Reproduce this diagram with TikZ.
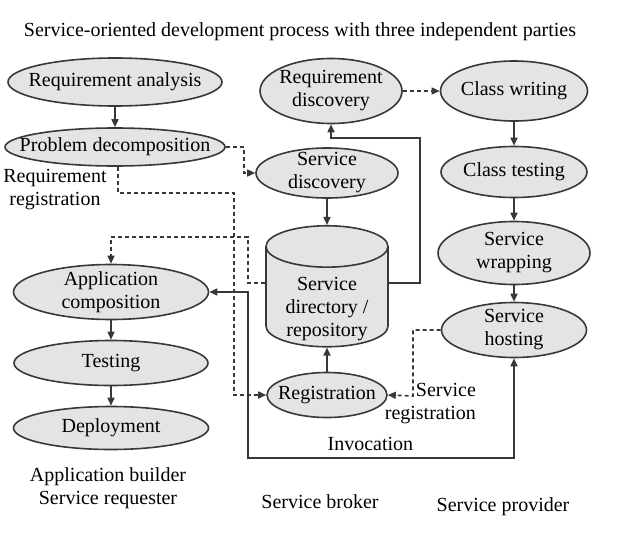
\documentclass[tikz,border=0pt]{standalone}
\usepackage{fontspec}
\setmainfont{Liberation Serif}
\usetikzlibrary{positioning, arrows.meta, shapes.geometric}
\definecolor{linegray}{HTML}{383838}
\definecolor{fillgray}{HTML}{E4E4E4}
\tikzset{
    phase/.style = {
        draw=linegray, fill=fillgray, ellipse, inner sep=0pt, line width=0.8pt,
        label={[align=center]center:#1}
    },
    store/.style = {
        draw=linegray, fill=fillgray, cylinder, shape border rotate=90, aspect=0.5,
        inner sep=0pt, line width=0.8pt, label={[align=center, yshift=-6pt]center:#1}
    },
    flow/.style = {draw=linegray, line width=0.8pt, -{Triangle[length=4pt, width=3.5pt]}},
    link/.style = {flow, dash pattern=on 2pt off 1.5pt},
    invoke/.style = {flow, {Triangle[length=4pt, width=3.5pt]}-{Triangle[length=4pt, width=3.5pt]}},
}

\begin{document}
\begin{tikzpicture}[x=0.5pt, y=-0.5pt, every node/.style={font=\fontsize{10}{11.5}\selectfont}]
    \useasboundingbox (0,0) rectangle (630,535);
    % Title
    \node (title) at (300,32) {Service-oriented development process with three independent parties};

    % Place the phases of the requester
    \node[phase={Requirement analysis}, minimum width=107pt, minimum height=24pt] (ra) at (115,82) {};
    \node[phase={Problem decomposition}, minimum width=110pt, minimum height=19pt] (pd) at (115,147) {};
    \node[phase={Application\\composition}, minimum width=97.5pt, minimum height=27.5pt] (ac) at (111,292) {};
    \node[phase={Testing}, minimum width=97pt, minimum height=22.5pt] (te) at (111,363) {};
    \node[phase={Deployment}, minimum width=97.5pt, minimum height=21.5pt] (de) at (111,428) {};

    % Place the phases of the broker
    \node[phase={Requirement\\discovery}, minimum width=71pt, minimum height=32.5pt] (rd) at (331,91) {};
    \node[phase={Service\\discovery}, minimum width=71pt, minimum height=25pt] (sd) at (327,173) {};
    \node[store={Service\\directory /\\repository}, minimum width=61pt, minimum height=60.5pt] (db) at (327,297) {\phantom{directory /}};
    \node[phase={Registration}, minimum width=60pt, minimum height=22.5pt] (reg) at (327,395) {};

    % Place the phases of the provider
    \node[phase={Class writing}, minimum width=73.5pt, minimum height=30pt] (cw) at (514,91) {};
    \node[phase={Class testing}, minimum width=73pt, minimum height=25.5pt] (ct) at (514,172) {};
    \node[phase={Service\\wrapping}, minimum width=76pt, minimum height=31.5pt] (sw) at (514,253) {};
    \node[phase={Service\\hosting}, minimum width=72.5pt, minimum height=27.5pt] (sh) at (514,330) {};

    % Corners of the connections
    \coordinate (rreg) at (234,193);
    \coordinate (loop) at (420,138);
    \coordinate (comp) at (248,237);
    \coordinate (inv) at (248,458);
    \coordinate (srg) at (413,396);

    % Draw connections
    \draw[flow] (ra.south) -- (pd.north);
    \draw[flow] (ac.south) -- (te.north);
    \draw[flow] (te.south) -- (de.north);
    \draw[flow] (sd.south) -- (db.north);
    \draw[flow] (reg.north) -- (db.south);
    \draw[flow] ([yshift=7pt] db.east) -| (loop) -| (rd.south);
    \draw[flow] (cw.south) -- (ct.north);
    \draw[flow] (ct.south) -- (sw.north);
    \draw[flow] (sw.south) -- (sh.north);
    \draw[link] (pd.east) -- ++(18,0) |- (sd.west);
    \draw[link] ([xshift=1.5pt] pd.south) |- (rreg) |- (reg.west);
    \draw[link] ([yshift=7pt] db.west) -| (comp) -| (ac.north);
    \draw[link] (rd.east) -- (cw.west);
    \draw[link] (sh.west) -| (srg) -- (reg.east);
    \draw[invoke] (ac.east) -| (inv) -| node[pos=0.23, above] (invl) {Invocation} (sh.south);

    % Labels
    \node[align=center] (rrl) at (55,190) {Requirement\\registration};
    \node[align=right, anchor=east] (srl) at (483,404) {Service\\registration};
    \node[align=center] (abl) at (108,488) {Application builder\\Service requester};
    \node (sbl) at (320,502) {Service broker};
    \node (spl) at (503,507) {Service provider};
\end{tikzpicture}
\end{document}
